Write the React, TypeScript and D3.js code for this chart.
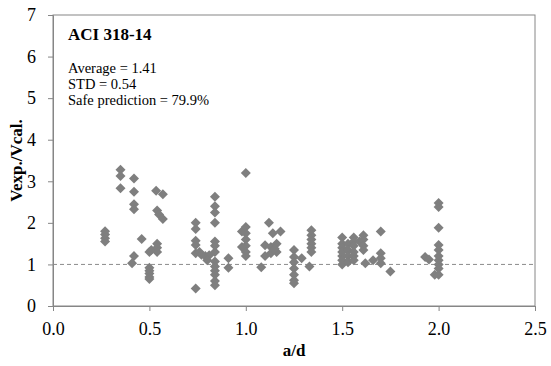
import { useEffect, useRef } from "react";
import * as d3 from "d3";

const xTicks = [0, 0.5, 1.0, 1.5, 2.0, 2.5];
const yTicks = [0, 1, 2, 3, 4, 5, 6, 7];

const statLines = ["Average = 1.41", "STD = 0.54", "Safe prediction = 79.9%"];

// [a/d, Vexp/Vcal]
const points: [number, number][] = [
    [0.27, 1.55], [0.27, 1.63], [0.27, 1.72], [0.27, 1.8],
    [0.35, 3.28], [0.35, 3.13], [0.35, 2.83],
    [0.42, 3.07], [0.42, 2.75], [0.42, 2.45], [0.42, 2.33], [0.42, 1.2], [0.41, 1.03],
    [0.46, 1.61],
    [0.5, 1.3], [0.51, 1.35], [0.5, 0.92], [0.5, 0.85], [0.5, 0.78], [0.5, 0.7], [0.5, 0.65],
    [0.535, 2.77], [0.57, 2.69], [0.54, 2.3], [0.55, 2.2], [0.57, 2.09],
    [0.54, 1.5], [0.54, 1.4], [0.54, 1.3],
    [0.74, 2.0], [0.74, 1.85], [0.74, 1.57], [0.74, 1.47], [0.74, 1.27], [0.74, 0.42],
    [0.76, 1.3], [0.77, 1.23], [0.79, 1.2], [0.81, 1.22], [0.8, 1.1],
    [0.84, 2.63], [0.84, 2.4], [0.84, 2.25], [0.84, 2.0], [0.84, 1.55], [0.84, 1.45], [0.84, 1.3],
    [0.84, 1.07], [0.84, 0.95], [0.84, 0.85], [0.84, 0.75], [0.84, 0.6], [0.84, 0.5],
    [0.91, 1.15], [0.91, 0.92],
    [0.98, 1.79], [0.98, 1.42], [1.0, 3.2], [1.0, 1.9], [1.0, 1.75], [1.0, 1.6], [1.0, 1.45], [1.0, 1.3], [1.0, 1.2],
    [1.08, 0.93], [1.1, 1.46], [1.1, 1.2], [1.12, 2.0], [1.14, 1.75],
    [1.13, 1.42], [1.13, 1.27], [1.16, 1.5], [1.16, 1.3], [1.18, 1.79], [1.15, 1.38],
    [1.25, 1.35], [1.25, 1.18], [1.25, 1.05], [1.25, 0.9], [1.25, 0.75], [1.25, 0.62], [1.25, 0.55],
    [1.29, 1.15], [1.33, 0.95],
    [1.34, 1.82], [1.34, 1.7], [1.34, 1.6], [1.34, 1.5], [1.34, 1.4], [1.34, 1.3],
    [1.5, 1.65], [1.5, 1.5], [1.5, 1.4], [1.5, 1.3], [1.5, 1.2], [1.5, 1.1], [1.5, 1.0],
    [1.53, 1.5], [1.53, 1.35], [1.53, 1.2], [1.53, 1.05],
    [1.56, 1.65], [1.56, 1.55], [1.56, 1.45], [1.56, 1.3], [1.56, 1.2], [1.56, 1.1],
    [1.59, 1.55], [1.61, 1.7], [1.61, 1.6], [1.61, 1.45], [1.61, 1.35],
    [1.62, 1.03], [1.66, 1.1], [1.7, 1.79], [1.7, 1.27], [1.7, 1.15], [1.7, 1.03], [1.75, 0.83],
    [1.93, 1.18], [1.95, 1.12], [1.98, 0.75],
    [2.0, 2.48], [2.0, 2.38], [2.0, 1.88], [2.0, 1.47], [2.0, 1.35],
    [2.0, 1.2], [2.0, 1.1], [2.0, 1.0], [2.0, 0.9], [2.0, 0.75],
];

const W = 551;
const H = 366;
const margin = { top: 15, right: 16, bottom: 60, left: 53 };

export default function App() {
    const ref = useRef<SVGSVGElement>(null);

    useEffect(() => {
        if (!ref.current) return;
        const svg = d3.select(ref.current);
        svg.selectAll("*").remove();

        const innerWidth = W - margin.left - margin.right;
        const innerHeight = H - margin.top - margin.bottom;
        const font = "'Liberation Serif', 'Times New Roman', serif";
        const axisColor = "#868686";

        const xScale = d3.scaleLinear().domain([0, 2.5]).range([0, innerWidth]);
        const yScale = d3.scaleLinear().domain([0, 7]).range([innerHeight, 0]);

        const g = svg.append("g")
            .attr("transform", `translate(${margin.left}, ${margin.top})`);

        // frame
        g.append("rect")
            .attr("x", 0).attr("y", 0)
            .attr("width", innerWidth).attr("height", innerHeight)
            .attr("fill", "none")
            .attr("stroke", axisColor)
            .attr("stroke-width", 1);

        const xAxis = d3.axisBottom(xScale).tickValues(xTicks).tickFormat(d3.format(".1f")).tickSize(5).tickPadding(11);
        const yAxis = d3.axisLeft(yScale).tickValues(yTicks).tickFormat(d3.format("d")).tickSize(5).tickPadding(12);

        const xg = g.append("g").attr("transform", `translate(0, ${innerHeight})`).call(xAxis);
        const yg = g.append("g").call(yAxis);
        [xg, yg].forEach(ax => {
            ax.select(".domain").attr("stroke", axisColor);
            ax.selectAll(".tick line").attr("stroke", axisColor);
            ax.selectAll(".tick text")
                .attr("fill", "black")
                .style("font-family", font)
                .style("font-size", "18px");
        });

        // y = 1 reference
        g.append("line")
            .attr("x1", 0).attr("x2", innerWidth)
            .attr("y1", yScale(1)).attr("y2", yScale(1))
            .attr("stroke", "#8c8c8c")
            .attr("stroke-width", 1)
            .attr("stroke-dasharray", "4,3");

        const r = 5;
        const diamond = `M0,${-r}L${r},0L0,${r}L${-r},0Z`;
        g.selectAll("path.pt")
            .data(points)
            .enter()
            .append("path")
            .attr("class", "pt")
            .attr("d", diamond)
            .attr("transform", d => `translate(${xScale(d[0])}, ${yScale(d[1])})`)
            .attr("fill", "#7f7f7f");

        // annotation
        g.append("text")
            .attr("x", 15).attr("y", 25)
            .style("font-family", font)
            .style("font-size", "17px")
            .style("font-weight", "bold")
            .text("ACI 318-14");

        statLines.forEach((s, i) => {
            g.append("text")
                .attr("x", 15).attr("y", 58 + i * 16)
                .style("font-family", font)
                .style("font-size", "14.5px")
                .text(s);
        });

        // axis titles
        svg.append("text")
            .attr("x", margin.left + innerWidth / 2)
            .attr("y", 356)
            .attr("text-anchor", "middle")
            .style("font-family", font)
            .style("font-size", "17px")
            .style("font-weight", "bold")
            .text("a/d");

        svg.append("text")
            .attr("transform", `translate(22, ${margin.top + innerHeight / 2}) rotate(-90)`)
            .attr("text-anchor", "middle")
            .style("font-family", font)
            .style("font-size", "17px")
            .style("font-weight", "bold")
            .text("Vexp./Vcal.");
    }, []);

    return (
        <svg ref={ref} width={W} height={H} style={{ position: "absolute", left: 0, top: 0, background: "white" }} />
    );
}
